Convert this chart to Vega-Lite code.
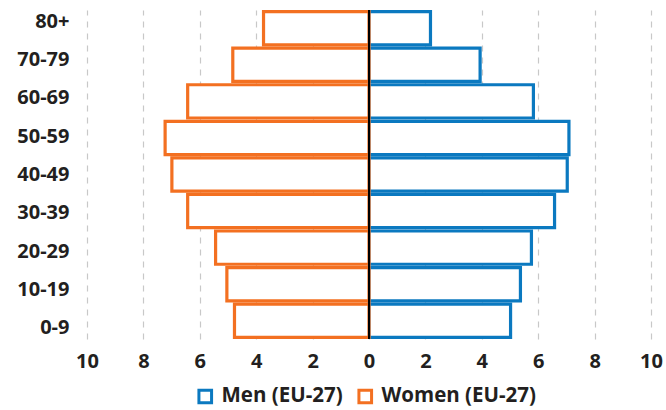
{
  "$schema": "https://vega.github.io/schema/vega-lite/v6.json",
  "width": 564,
  "height": 329,
  "autosize": {"type": "none"},
  "padding": {"left": 87, "top": 10, "right": 15, "bottom": 71},
  "background": "white",
  "config": {"view": {"stroke": null}, "font": "Open Sans"},
  "data": {
    "values": [
      {"age": "80+", "sex": "Men (EU-27)", "pct": 2.18},
      {"age": "70-79", "sex": "Men (EU-27)", "pct": 3.94},
      {"age": "60-69", "sex": "Men (EU-27)", "pct": 5.83},
      {"age": "50-59", "sex": "Men (EU-27)", "pct": 7.09},
      {"age": "40-49", "sex": "Men (EU-27)", "pct": 7.03},
      {"age": "30-39", "sex": "Men (EU-27)", "pct": 6.58},
      {"age": "20-29", "sex": "Men (EU-27)", "pct": 5.76},
      {"age": "10-19", "sex": "Men (EU-27)", "pct": 5.37},
      {"age": "0-9", "sex": "Men (EU-27)", "pct": 5.02},
      {"age": "80+", "sex": "Women (EU-27)", "pct": -3.74},
      {"age": "70-79", "sex": "Women (EU-27)", "pct": -4.83},
      {"age": "60-69", "sex": "Women (EU-27)", "pct": -6.43},
      {"age": "50-59", "sex": "Women (EU-27)", "pct": -7.23},
      {"age": "40-49", "sex": "Women (EU-27)", "pct": -6.99},
      {"age": "30-39", "sex": "Women (EU-27)", "pct": -6.43},
      {"age": "20-29", "sex": "Women (EU-27)", "pct": -5.44},
      {"age": "10-19", "sex": "Women (EU-27)", "pct": -5.04},
      {"age": "0-9", "sex": "Women (EU-27)", "pct": -4.77}
    ]
  },
  "resolve": {"scale": {"y": "independent"}, "axis": {"y": "independent"}},
  "layer": [
    {
      "mark": {"type": "bar", "fill": "white", "strokeWidth": 3.2, "strokeJoin": "miter"},
      "encoding": {
        "y": {
          "field": "age",
          "type": "nominal",
          "sort": ["80+", "70-79", "60-69", "50-59", "40-49", "30-39", "20-29", "10-19", "0-9"],
          "scale": {"paddingInner": 0.09, "paddingOuter": 0.045},
          "axis": null
        },
        "x": {
          "field": "pct",
          "type": "quantitative",
          "scale": {"domain": [-10, 10], "nice": false},
          "axis": {
            "title": null,
            "values": [-10, -8, -6, -4, -2, 0, 2, 4, 6, 8, 10],
            "labelExpr": "abs(datum.value)",
            "labelFlush": false,
            "domain": false,
            "ticks": false,
            "grid": true,
            "gridDash": [6, 6],
            "gridColor": "#c8c8c8",
            "gridWidth": 1.2,
            "labelPadding": 12,
            "labelFontSize": 20,
            "labelFontWeight": "bold",
            "labelColor": "#231f20"
          }
        },
        "stroke": {
          "field": "sex",
          "type": "nominal",
          "scale": {"domain": ["Men (EU-27)", "Women (EU-27)"], "range": ["#0b79c0", "#f37021"]},
          "legend": {
            "title": null,
            "orient": "none",
            "direction": "horizontal",
            "legendX": 108,
            "legendY": 376,
            "padding": 0,
            "symbolType": "square",
            "symbolSize": 160,
            "symbolStrokeWidth": 3,
            "symbolFillColor": "white",
            "labelFontSize": 20.5,
            "labelFontWeight": "bold",
            "labelColor": "#231f20",
            "labelLimit": 400,
            "labelOffset": 6,
            "columnPadding": 9
          }
        }
      }
    },
    {
      "mark": {"type": "point", "opacity": 0},
      "encoding": {
        "y": {
          "field": "age",
          "type": "ordinal",
          "sort": ["80+", "70-79", "60-69", "50-59", "40-49", "30-39", "20-29", "10-19", "0-9"],
          "scale": {"type": "point", "padding": 0.295},
          "axis": {
            "orient": "left",
            "title": null,
            "domain": false,
            "ticks": false,
            "grid": false,
            "labelPadding": 18,
            "labelFontSize": 20,
            "labelFontWeight": "bold",
            "labelColor": "#231f20"
          }
        },
        "x": {"field": "pct", "type": "quantitative"}
      }
    },
    {
      "mark": {"type": "rule", "color": "black", "strokeWidth": 2},
      "encoding": {"x": {"datum": 0}}
    }
  ]
}
